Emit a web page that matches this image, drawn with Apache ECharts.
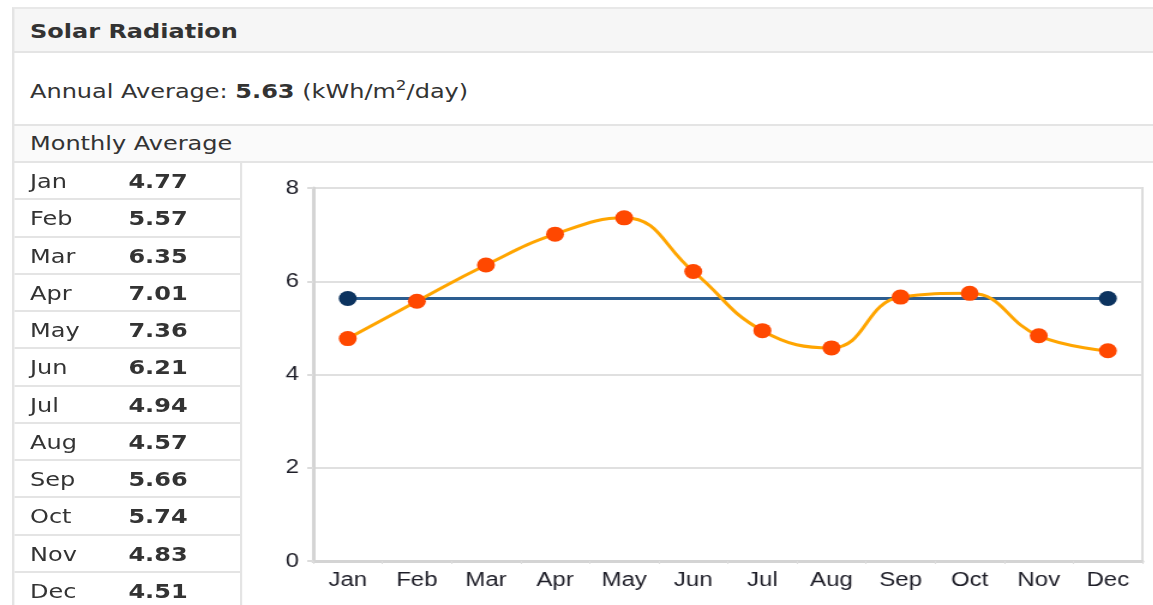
<!DOCTYPE html>
<html>
<head>
<meta charset="utf-8">
<script src="https://cdn.jsdelivr.net/npm/echarts@6/dist/echarts.min.js"></script>
<style>
  html, body { margin: 0; padding: 0; background: #fff; overflow: hidden; }
  /* the reference is stretched sideways, so the page is laid out narrow and scaled */
  #pagina {
    position: absolute; left: 0; top: 0; width: 961px; height: 605px;
    transform: scaleX(1.2); transform-origin: 0 0;
    font-family: "DejaVu Sans", Verdana, sans-serif; font-size: 20px; color: #333;
  }
  .faixa { position: absolute; left: 10px; width: 960px; box-sizing: border-box;
           border-left: 2px solid #e4e4e4; border-bottom: 2px solid #e4e4e4; padding-left: 13px; }
  #titulo { top: 7px; height: 46px; line-height: 44px; background: #f6f6f6; font-weight: bold;
            border-top: 2px solid #e8e8e8; }
  #anual { top: 53px; height: 73px; line-height: 76px; background: #fff; }
  #anual sup { font-size: 14px; vertical-align: 8px; line-height: 0; }
  #mensal { top: 126px; height: 37px; line-height: 35px; background: #fafafa; }
  #tabela { position: absolute; left: 10px; top: 163px; width: 192px; box-sizing: border-box;
            border-left: 2px solid #e4e4e4; border-right: 2px solid #e4e4e4; }
  .linha { height: 37.25px; box-sizing: border-box; border-bottom: 2px solid #e4e4e4; position: relative; }
  .linha span { position: absolute; top: 0; line-height: 36px; }
  .mes { left: 13px; }
  .val { left: 95px; font-weight: bold; }
  #grafico { position: absolute; left: 202px; top: 163px; width: 759px; height: 442px; }
</style>
</head>
<body>
<div id="pagina">
  <div class="faixa" id="titulo">Solar Radiation</div>
  <div class="faixa" id="anual">Annual Average: <b>5.63</b> (kWh/m<sup>2</sup>/day)</div>
  <div class="faixa" id="mensal">Monthly Average</div>
  <div id="tabela"></div>
  <div id="grafico"></div>
</div>
<script>
// médias mensais (kWh/m²/dia)
const MESES = ["Jan", "Feb", "Mar", "Apr", "May", "Jun", "Jul", "Aug", "Sep", "Oct", "Nov", "Dec"];
const MEDIAS = [4.77, 5.57, 6.35, 7.01, 7.36, 6.21, 4.94, 4.57, 5.66, 5.74, 4.83, 4.51];
const ROTULOS = ["4.77", "5.57", "6.35", "7.01", "7.36", "6.21", "4.94", "4.57", "5.66", "5.74", "4.83", "4.51"];
// média anual: só as pontas têm marcador
const LINHA_ANUAL = [5.63, "-", "-", "-", "-", "-", "-", "-", "-", "-", "-", 5.63];
const EIXO_Y = { min: 0, max: 8, intervalo: 2 };

const tabela = document.getElementById("tabela");
MESES.forEach((m, i) => {
  const linha = document.createElement("div");
  linha.className = "linha";
  linha.innerHTML = `<span class="mes">${m}</span><span class="val">${ROTULOS[i]}</span>`;
  tabela.appendChild(linha);
});

const g = echarts.init(document.getElementById("grafico"));
const rotulo = { color: "#1e1e28", fontSize: 20, fontFamily: "Liberation Sans, Arial, sans-serif" };
g.setOption({
  animation: false,
  backgroundColor: "#fff",
  grid: { left: 59, right: 9, top: 25, bottom: 44, show: true, borderColor: "#dcdcdc", borderWidth: 2 },
  xAxis: {
    type: "category",
    data: MESES,
    boundaryGap: true,
    axisLine: { lineStyle: { color: "#d4d4d4", width: 3 } },
    axisTick: { show: true, length: 3, interval: 0, lineStyle: { color: "#dddddd" } },
    axisLabel: { ...rotulo, margin: 9, interval: 0 },
  },
  yAxis: {
    type: "value",
    min: EIXO_Y.min, max: EIXO_Y.max, interval: EIXO_Y.intervalo,
    axisLine: { show: true, lineStyle: { color: "#d4d4d4", width: 3 } },
    axisTick: { show: true, length: 5, lineStyle: { color: "#dcdcdc", width: 2 } },
    axisLabel: { ...rotulo, margin: 12 },
    splitLine: { lineStyle: { color: "#e0e0e0", width: 2 } },
  },
  series: [
    {
      type: "line",
      data: LINHA_ANUAL,
      connectNulls: true,
      symbol: "circle",
      symbolSize: 15,
      lineStyle: { color: "#2c5d90", width: 3 },
      itemStyle: { color: "#0c335f" },
    },
    {
      type: "line",
      data: MEDIAS,
      smooth: 0.45,
      symbol: "circle",
      symbolSize: 15,
      lineStyle: { color: "#ffa500", width: 3 },
      itemStyle: { color: "#ff4800" },
    },
  ],
});
</script>
</body>
</html>
